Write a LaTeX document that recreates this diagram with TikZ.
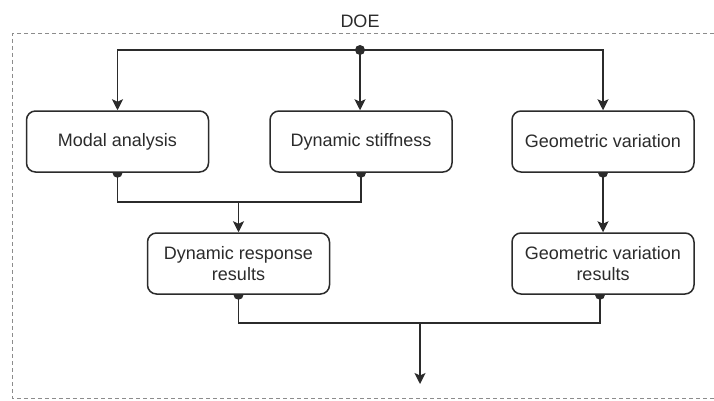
\documentclass[tikz,border=0pt]{standalone}
\usepackage{fontspec}
\setmainfont{Liberation Sans}
\usetikzlibrary{arrows.meta,backgrounds}
\definecolor{ink}{HTML}{2B2B2B}
\definecolor{frame}{HTML}{8C8C8C}
\tikzset{
  box/.style={draw=ink, line width=1.5pt, rounded corners=9pt, fill=white,
    minimum width=182pt, minimum height=61pt, align=center, text=ink,
    font=\fontsize{18}{21}\selectfont, inner sep=2pt},
  conn/.style={draw=ink, line width=1.6pt},
  arr/.style={conn, -{Stealth[length=11pt,width=11pt,inset=2.5pt]}},
  bigdot/.style={fill=ink},
}
\begin{document}
\begin{tikzpicture}[x=1pt,y=1pt]
\useasboundingbox (0,0) rectangle (714,400);
% container frame
\draw[frame, line width=1pt, dash pattern=on 4pt off 3pt] (714,366) -- (12,366) -- (12,2) -- (714,2);
\node[text=ink, font=\fontsize{18}{21}\selectfont] (doe) at (360,379) {DOE};
% nodes
\node[box] (ma) at (117.5,258.5) {Modal analysis};
\node[box] (ds) at (361,258.5) {Dynamic stiffness};
\node[box] (gv) at (603,258.5) {Geometric variation};
\node[box] (drr) at (238.5,136.5) {Dynamic response\\results};
\node[box] (gvr) at (603,136.5) {Geometric variation\\results};
% junction coordinates
\coordinate (top) at (360,350);
\coordinate (j1) at (238.5,198);
\coordinate (gvrs) at ([xshift=-3pt]gvr.south);
\coordinate (j2) at (420,77);
\coordinate (out) at (420,16);
\begin{scope}[on background layer]
  \fill[bigdot] (top) circle (5pt);
  \draw[arr] (top) -| (ma.north);
  \draw[arr] (top) -- (top |- ds.north);
  \draw[arr] (top) -| (gv.north);
  \fill[bigdot] (ma.south) circle (5pt);
  \fill[bigdot] (ds.south) circle (5pt);
  \draw[conn] (ma.south) |- (j1);
  \draw[conn] (ds.south) |- (j1);
  \draw[arr] (j1) -- (drr.north);
  \fill[bigdot] (gv.south) circle (5pt);
  \draw[arr] (gv.south) -- (gvr.north);
  \fill[bigdot] (drr.south) circle (5pt);
  \fill[bigdot] (gvrs) circle (5pt);
  \draw[conn] (drr.south) |- (j2);
  \draw[conn] (gvrs) |- (j2);
  \draw[arr] (j2) -- (out);
\end{scope}
\end{tikzpicture}
\end{document}
